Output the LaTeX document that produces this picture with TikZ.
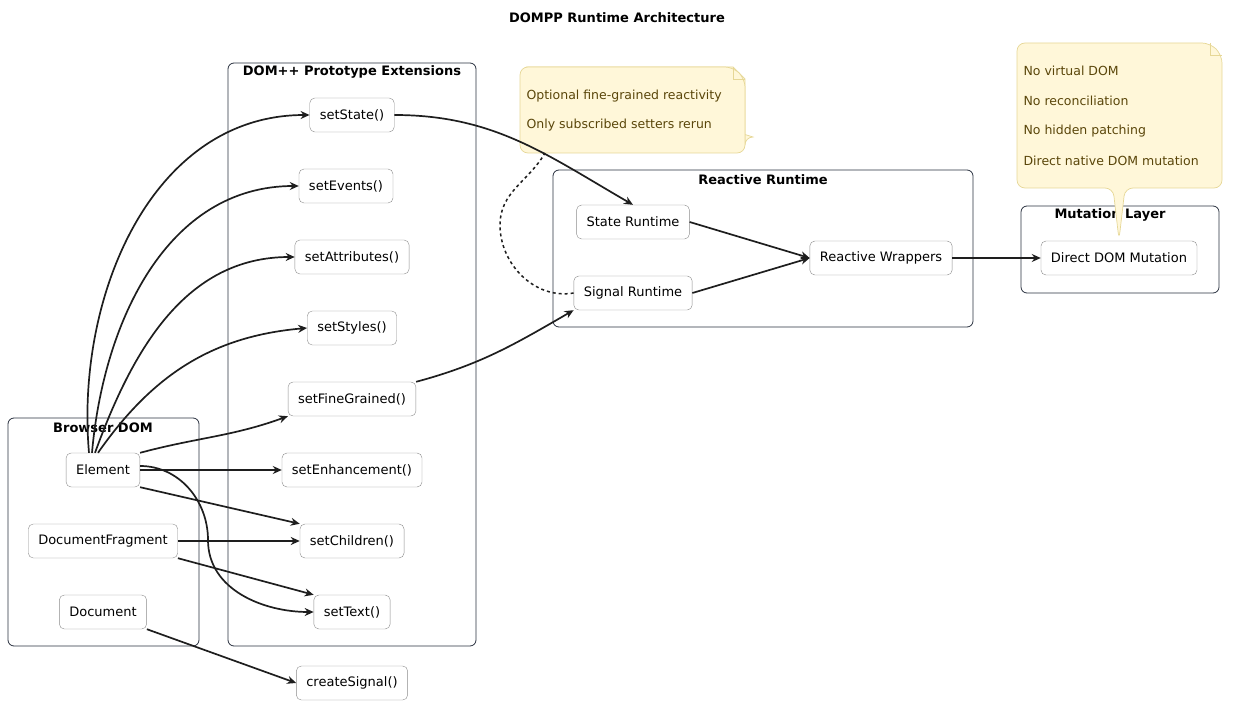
\documentclass[tikz,border=0pt]{standalone}
\usepackage{fontspec}
\setmainfont{DejaVu Sans}
\usetikzlibrary{positioning,shapes,arrows.meta,calc,backgrounds}
\definecolor{edgegray}{RGB}{30,30,30}
\definecolor{boxgray}{RGB}{140,140,140}
\definecolor{clusterline}{RGB}{40,48,62}
\definecolor{notefill}{RGB}{255,247,217}
\definecolor{noteline}{RGB}{230,215,150}
\definecolor{notetext}{RGB}{90,70,10}

\begin{document}
\begin{tikzpicture}[x=1pt, y=-1pt, font=\fontsize{13}{15}\selectfont]
    % Define styles
    \tikzset{
        box/.style={rectangle, rounded corners=5pt, draw=boxgray, fill=white, minimum height=34pt, inner xsep=10pt},
        cluster/.style={rectangle, rounded corners=6pt, draw=clusterline, line width=0.8pt},
        ctitle/.style={font=\fontsize{13}{15}\selectfont\bfseries},
        link/.style={-{Stealth[length=9pt,width=8pt]}, line width=1.7pt, draw=edgegray},
        notebox/.style={fill=notefill, draw=noteline, line width=0.7pt},
        notetxt/.style={anchor=west, text=notetext, font=\fontsize{12.5}{15}\selectfont}
    }
    \useasboundingbox (0,0) rectangle (1235,714);

    % Title
    \node[ctitle] (title) at (617,18) {DOMPP Runtime Architecture};

    % Clusters
    \draw[cluster] (8,418) rectangle (199,646);
    \node[ctitle] (browsertitle) at (103,428) {Browser DOM};
    \draw[cluster] (228,63) rectangle (476,646);
    \node[ctitle] (domtitle) at (352,72) {DOM++ Prototype Extensions};
    \draw[cluster] (553,170) rectangle (973,327);
    \node[ctitle] (reacttitle) at (763,180) {Reactive Runtime};
    \draw[cluster] (1021,206) rectangle (1219,293);
    \node[ctitle] (muttitle) at (1110,215) {Mutation Layer};

    % Browser DOM
    \node[box] (element) at (103,470) {Element};
    \node[box] (fragment) at (103,541) {DocumentFragment};
    \node[box] (document) at (103,612) {Document};

    % Prototype extensions
    \node[box] (setstate) at (352,115) {setState()};
    \node[box] (setevents) at (346,186) {setEvents()};
    \node[box] (setattributes) at (352,257) {setAttributes()};
    \node[box] (setstyles) at (352,328) {setStyles()};
    \node[box] (setfine) at (352,399) {setFineGrained()};
    \node[box] (setenh) at (352,470) {setEnhancement()};
    \node[box] (setchildren) at (352,541) {setChildren()};
    \node[box] (settext) at (352,612) {setText()};
    \node[box] (createsignal) at (352,683) {createSignal()};

    % Reactive runtime
    \node[box] (stateruntime) at (633,222) {State Runtime};
    \node[box] (signalruntime) at (633,293) {Signal Runtime};
    \node[box] (wrappers) at (881,258) {Reactive Wrappers};

    % Mutation layer
    \node[box] (mutation) at (1119,258) {Direct DOM Mutation};

    % Notes
    \draw[notebox] (528,67) -- (733,67) -- (745,79) -- (745,145) arc (0:90:-8) -- cycle;
    \draw[notebox, rounded corners=8pt] (520,67) -- (733,67) -- (745,79) -- (745,153) -- (520,153) -- cycle;
    \draw[noteline, line width=0.7pt] (733,67) -- (733,79) -- (745,79);
    \node[notetxt] (note1a) at (523,96) {Optional fine-grained reactivity};
    \node[notetxt] (note1b) at (523,125) {Only subscribed setters rerun};
    \coordinate (note1end) at (545,153);

    \draw[notebox, rounded corners=8pt] (1017,43) -- (1210,43) -- (1222,55) -- (1222,188) -- (1125,188) -- (1119,240) -- (1113,188) -- (1017,188) -- cycle;
    \draw[noteline, line width=0.7pt] (1210,43) -- (1210,55) -- (1222,55);
    \node[notetxt] (note2a) at (1020,71) {No virtual DOM};
    \node[notetxt] (note2b) at (1020,101) {No reconciliation};
    \node[notetxt] (note2c) at (1020,131) {No hidden patching};
    \node[notetxt] (note2d) at (1020,161) {Direct native DOM mutation};

    % Arrows
    \draw[link] ([xshift=-14pt]element.north) to[out=95, in=180] (setstate.west);
    \draw[link] ([xshift=-11pt]element.north) to[out=85, in=180] (setevents.west);
    \draw[link] ([xshift=-8pt]element.north) to[out=70, in=180] (setattributes.west);
    \draw[link] ([xshift=-5pt]element.north) to[out=55, in=185] (setstyles.west);
    \draw[link] (element.north east) to[out=15, in=200] (setfine.south west);
    \draw[link] (element) -- (setenh);
    \draw[link] (element.south east) -- (setchildren.north west);
    \draw[link] ([yshift=4pt]element.east) to[out=0, in=90] (208,540) to[out=-90, in=180] (settext.west);
    \draw[link] (fragment) -- (setchildren);
    \draw[link] (fragment.south east) -- (settext.north west);
    \draw[link] (document.south east) -- (createsignal.west);
    \draw[link] (setstate.east) to[out=0, in=150] (stateruntime.north);
    \draw[link] (setfine.north east) to[out=15, in=210] (signalruntime.south west);
    \draw[link] (stateruntime.east) -- (wrappers.west);
    \draw[link] (signalruntime.east) -- (wrappers.west);
    \draw[link] (wrappers) -- (mutation);
    \draw[dashed, line width=1.5pt, draw=edgegray] (signalruntime.west) to[out=190, in=-90] (500,225) to[out=90, in=-120] (note1end);
\end{tikzpicture}
\end{document}
